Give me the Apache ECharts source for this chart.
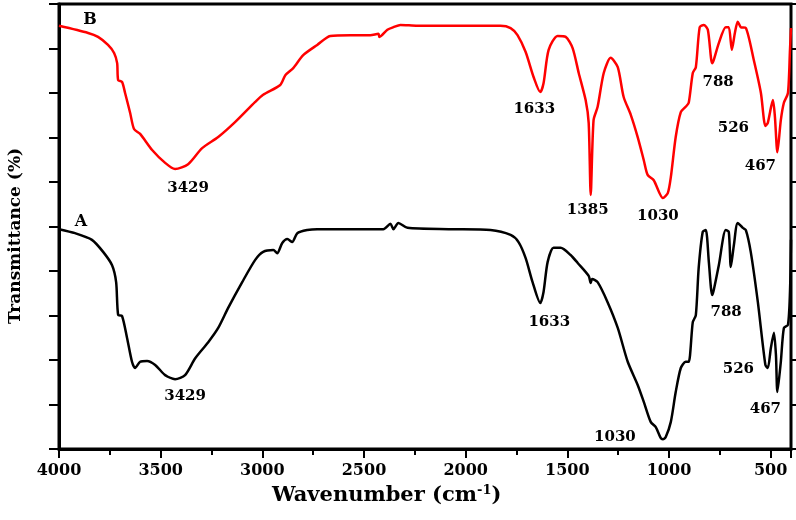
<!DOCTYPE html>
<html>
<head>
<meta charset="utf-8">
<title>FTIR</title>
<script src="https://cdn.jsdelivr.net/npm/echarts@6.0.0/dist/echarts.min.js"></script>
<style>
    html, body { margin: 0; padding: 0; background: #fff; }
    #main { width: 796px; height: 520px; }
</style>
</head>
<body>
<div id="main"></div>
<script>
    // 红外光谱 A / B
    const xTicks = [4000, 3500, 3000, 2500, 2000, 1500, 1000, 500];

    // curve B (red)
    const wnB = [4000, 3857, 3808, 3759, 3729, 3714, 3709, 3690, 3675, 3650, 3631, 3601, 3542, 3478, 3429,
        3365, 3296, 3217, 3133, 3035, 2996, 2912, 2887, 2848, 2799, 2730, 2666, 2567, 2469, 2429, 2424, 2385,
        2355, 2321, 2237, 2075, 1829, 1779, 1745, 1705, 1666, 1633, 1617, 1592, 1548, 1508, 1474, 1444, 1410,
        1395, 1385, 1371, 1351, 1321, 1287, 1252, 1223, 1188, 1154, 1124, 1105, 1075, 1030, 1006, 991, 967,
        942, 918, 903, 883, 868, 849, 829, 809, 788, 780, 755, 721, 706, 691, 676, 662, 647, 622, 583, 548,
        526, 514, 489, 479, 467, 450, 435, 415, 405, 400];
    const tB = [95.1, 93.5, 92.6, 90.8, 89.0, 86.7, 82.9, 82.5, 80.0, 75.5, 71.9, 70.8, 67.2, 64.3, 62.9,
        64.0, 67.6, 70.1, 73.5, 78.0, 79.6, 81.8, 84.0, 85.6, 88.5, 90.8, 92.8, 93.0, 93.0, 93.3, 92.6, 94.2,
        94.8, 95.3, 95.1, 95.1, 95.1, 94.6, 93.0, 89.2, 83.6, 80.2, 82.2, 89.7, 92.8, 92.6, 90.1, 84.5, 78.4,
        73.3, 57.1, 73.9, 76.9, 84.5, 87.9, 85.8, 79.1, 75.1, 70.1, 64.9, 61.6, 60.4, 56.4, 57.5, 61.1, 70.1,
        75.7, 76.9, 77.8, 84.5, 85.8, 94.8, 95.3, 94.2, 86.7, 87.4, 91.2, 94.8, 94.8, 89.7, 93.5, 96.0, 94.8, 94.6, 87.4, 80.0,
        72.6, 73.3, 78.4, 74.6, 66.7, 73.9, 77.8, 80.0, 89.7, 94.6];

    // curve A (black)
    const wnA = [4000, 3921, 3838, 3783, 3739, 3719, 3709, 3690, 3665, 3641, 3626, 3601, 3567, 3527, 3478,
        3429, 3380, 3330, 3266, 3217, 3168, 3099, 3035, 2996, 2946, 2927, 2902, 2877, 2853, 2828, 2779, 2730,
        2405, 2370, 2355, 2331, 2286, 2075, 1878, 1779, 1740, 1705, 1671, 1633, 1617, 1597, 1568, 1533, 1484,
        1449, 1395, 1385, 1378, 1351, 1302, 1252, 1203, 1154, 1124, 1090, 1065, 1041, 1030, 1016, 991, 967,
        942, 918, 903, 883, 868, 854, 834, 819, 804, 788, 780, 755, 721, 706, 696, 681, 662, 637, 622, 598,
        563, 526, 514, 499, 484, 474, 467, 450, 435, 415, 405, 400];
    const tA = [49.4, 48.5, 47.0, 44.3, 41.3, 37.5, 30.1, 29.9, 24.9, 19.6, 18.2, 19.6, 19.8, 18.9, 16.6,
        15.7, 16.6, 20.4, 24.0, 27.2, 31.7, 37.5, 42.5, 44.3, 44.7, 44.0, 46.3, 47.2, 46.5, 48.5, 49.2, 49.4,
        49.4, 50.6, 49.4, 50.8, 49.7, 49.4, 49.2, 48.1, 46.5, 42.9, 37.5, 32.8, 35.3, 42.0, 45.2, 45.2, 43.6,
        41.8, 38.9, 37.3, 38.2, 37.5, 33.0, 27.2, 19.6, 14.4, 10.6, 6.1, 4.9, 2.5, 2.2, 2.7, 6.1, 12.8,
        18.2, 19.6, 19.6, 28.5, 30.1, 40.7, 48.8, 49.2, 42.0, 34.6, 35.7, 41.3, 49.2, 48.8, 40.9, 45.8, 50.8, 49.7, 49.2, 44.3,
        33.0, 18.9, 18.2, 22.7, 26.1, 21.1, 12.8, 19.6, 27.2, 27.9, 35.3, 47.0];

    // 标注峰位
    const peaksB = [3429, 1633, 1385, 1030, 788, 526, 467];
    const peaksA = [3429, 1633, 1030, 788, 526, 467];

    // label offsets (px) relative to the peak
    const offB = [[13, 19], [-6, 17], [-3, 15], [-5, 18], [6, 19], [-32, 2], [-17, 14]];
    const offA = [[10, 17], [9, 19], [-48, -2], [14, 17], [-27, 4], [-12, 17]];

    const FONT = 'DejaVu Serif';

    function pairs(wn, t) {
        return wn.map((w, i) => [w, t[i]]);
    }

    function marks(wn, t, peaks, offs, tag, tagOff) {
        let data = peaks.map((p, i) => ({
            coord: [p, t[wn.indexOf(p)]],
            name: String(p),
            label: {offset: offs[i]}
        }));
        data.push({coord: [wn[0], t[0]], name: tag, label: {offset: tagOff, fontSize: 16}});
        return {
            symbol: 'circle',
            symbolSize: 0,
            silent: true,
            label: {
                show: true,
                position: 'inside',
                formatter: '{b}',
                color: '#000',
                fontFamily: FONT,
                fontWeight: 'bold',
                fontSize: 15
            },
            data: data
        };
    }

    let chart = echarts.init(document.getElementById('main'));
    let option = {
        animation: false,
        backgroundColor: '#fff',
        grid: {
            left: 59,
            right: 5,
            top: 4,
            bottom: 71,
            show: true,
            borderColor: '#000',
            borderWidth: 3
        },
        xAxis: {
            type: 'value',
            inverse: true,
            min: 400,
            max: 4000,
            splitNumber: 7,
            position: 'bottom',
            axisLine: {show: true, onZero: false, lineStyle: {color: '#000', width: 3}},
            axisTick: {show: true, length: 9, lineStyle: {color: '#000', width: 2}},
            minorTick: {show: true, splitNumber: 2, length: 6, lineStyle: {color: '#000', width: 2}},
            axisLabel: {
                formatter: v => (xTicks.indexOf(v) >= 0 ? String(v) : ''),
                color: '#000',
                fontFamily: FONT,
                fontWeight: 'bold',
                fontSize: 16,
                margin: 14
            },
            splitLine: {show: false}
        },
        yAxis: [
            {
                type: 'value',
                min: 0,
                max: 100,
                interval: 10,
                position: 'left',
                axisLine: {show: true, lineStyle: {color: '#000', width: 3}},
                axisTick: {show: true, length: 10, lineStyle: {color: '#000', width: 2}},
                axisLabel: {show: false},
                splitLine: {show: false}
            },
            {
                type: 'value',
                min: 0,
                max: 100,
                interval: 10,
                position: 'right',
                axisLine: {show: false},
                axisTick: {show: true, length: 6, lineStyle: {color: '#000', width: 2}},
                axisLabel: {show: false},
                splitLine: {show: false}
            }
        ],
        graphic: [
            {
                type: 'text',
                left: 272,
                top: 484,
                style: {
                    text: 'Wavenumber (cm{sup|-1})',
                    fill: '#000',
                    font: 'bold 21px "DejaVu Serif"',
                    rich: {
                        sup: {fontSize: 13, fontWeight: 'bold', fontFamily: FONT, verticalAlign: 'top', lineHeight: 24}
                    }
                }
            },
            {
                type: 'text',
                x: 16,
                y: 236,
                rotation: Math.PI / 2,
                style: {
                    text: 'Transmittance (%)',
                    fill: '#000',
                    font: 'bold 17px "DejaVu Serif"',
                    align: 'center',
                    verticalAlign: 'middle'
                }
            }
        ],
        series: [
            {
                name: 'B',
                type: 'line',
                showSymbol: false,
                smooth: 0.25,
                lineStyle: {color: '#ff0000', width: 2.5},
                data: pairs(wnB, tB),
                markPoint: marks(wnB, tB, peaksB, offB, 'B', [31, -6])
            },
            {
                name: 'A',
                type: 'line',
                showSymbol: false,
                smooth: 0.25,
                lineStyle: {color: '#000', width: 2.5},
                data: pairs(wnA, tA),
                markPoint: marks(wnA, tA, peaksA, offA, 'A', [22, -7])
            }
        ]
    };
    chart.setOption(option);
</script>
</body>
</html>
